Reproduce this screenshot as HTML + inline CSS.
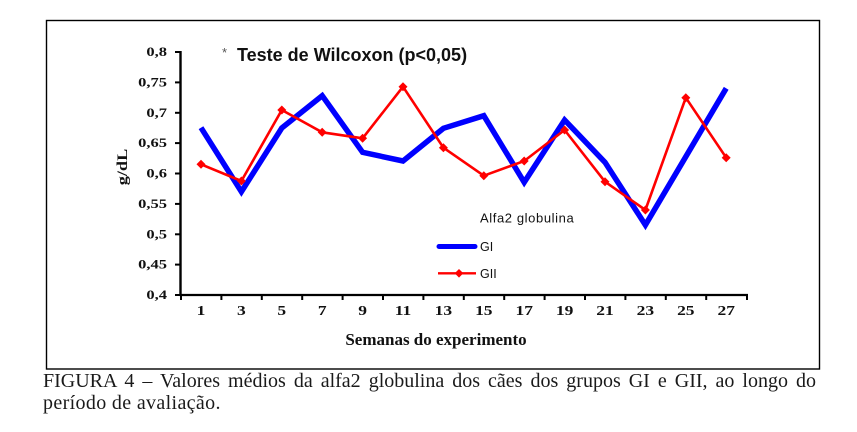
<!DOCTYPE html>
<html><head><meta charset="utf-8"><style>
html,body{margin:0;padding:0;background:#fff;}
body{width:857px;height:432px;overflow:hidden;position:relative;}
svg{position:absolute;left:0;top:0;}
.cap{position:absolute;left:43px;width:773px;font-family:"Liberation Serif",serif;font-size:20px;color:#1a1a1a;white-space:nowrap;line-height:22px;}
</style></head><body>
<svg width="857" height="432" viewBox="0 0 857 432" xmlns="http://www.w3.org/2000/svg">
<rect x="46.5" y="20.5" width="773" height="348.5" fill="none" stroke="#000" stroke-width="1.4"/>
<!-- axes -->
<line x1="180.5" y1="51" x2="180.5" y2="296" stroke="#000" stroke-width="2.4"/>
<line x1="179.5" y1="295" x2="748" y2="295" stroke="#000" stroke-width="2.2"/>
<g stroke="#000" stroke-width="2">
<line x1="175" y1="52" x2="181" y2="52"/>
<line x1="175" y1="82.4" x2="181" y2="82.4"/>
<line x1="175" y1="112.8" x2="181" y2="112.8"/>
<line x1="175" y1="143.1" x2="181" y2="143.1"/>
<line x1="175" y1="173.5" x2="181" y2="173.5"/>
<line x1="175" y1="203.9" x2="181" y2="203.9"/>
<line x1="175" y1="234.3" x2="181" y2="234.3"/>
<line x1="175" y1="264.6" x2="181" y2="264.6"/>
<line x1="175" y1="295" x2="181" y2="295"/>
<line x1="181" y1="295" x2="181" y2="300"/>
<line x1="221.4" y1="295" x2="221.4" y2="300"/>
<line x1="261.8" y1="295" x2="261.8" y2="300"/>
<line x1="302.2" y1="295" x2="302.2" y2="300"/>
<line x1="342.6" y1="295" x2="342.6" y2="300"/>
<line x1="383" y1="295" x2="383" y2="300"/>
<line x1="423.4" y1="295" x2="423.4" y2="300"/>
<line x1="463.8" y1="295" x2="463.8" y2="300"/>
<line x1="504.2" y1="295" x2="504.2" y2="300"/>
<line x1="544.6" y1="295" x2="544.6" y2="300"/>
<line x1="585" y1="295" x2="585" y2="300"/>
<line x1="625.4" y1="295" x2="625.4" y2="300"/>
<line x1="665.8" y1="295" x2="665.8" y2="300"/>
<line x1="706.2" y1="295" x2="706.2" y2="300"/>
<line x1="747" y1="295" x2="747" y2="300"/>
</g>
<!-- y labels -->
<g font-family="Liberation Serif, serif" font-weight="bold" font-size="13" fill="#111" text-anchor="end">
<text transform="translate(167,56) scale(1.27,1)">0,8</text>
<text transform="translate(167,86.4) scale(1.27,1)">0,75</text>
<text transform="translate(167,116.8) scale(1.27,1)">0,7</text>
<text transform="translate(167,147.1) scale(1.27,1)">0,65</text>
<text transform="translate(167,177.5) scale(1.27,1)">0,6</text>
<text transform="translate(167,207.9) scale(1.27,1)">0,55</text>
<text transform="translate(167,238.3) scale(1.27,1)">0,5</text>
<text transform="translate(167,268.6) scale(1.27,1)">0,45</text>
<text transform="translate(167,299) scale(1.27,1)">0,4</text>
</g>
<!-- x labels -->
<g font-family="Liberation Serif, serif" font-weight="bold" font-size="14" fill="#111" text-anchor="middle">
<text transform="translate(201,315) scale(1.25,1)">1</text>
<text transform="translate(241.4,315) scale(1.25,1)">3</text>
<text transform="translate(281.8,315) scale(1.25,1)">5</text>
<text transform="translate(322.2,315) scale(1.25,1)">7</text>
<text transform="translate(362.6,315) scale(1.25,1)">9</text>
<text transform="translate(403,315) scale(1.25,1)">11</text>
<text transform="translate(443.4,315) scale(1.25,1)">13</text>
<text transform="translate(483.8,315) scale(1.25,1)">15</text>
<text transform="translate(524.2,315) scale(1.25,1)">17</text>
<text transform="translate(564.6,315) scale(1.25,1)">19</text>
<text transform="translate(605,315) scale(1.25,1)">21</text>
<text transform="translate(645.4,315) scale(1.25,1)">23</text>
<text transform="translate(685.8,315) scale(1.25,1)">25</text>
<text transform="translate(726.2,315) scale(1.25,1)">27</text>
</g>
<!-- axis titles -->
<text transform="translate(127,167) rotate(-90) scale(1.22,1)" text-anchor="middle" font-family="Liberation Serif, serif" font-weight="bold" font-size="15" fill="#111">g/dL</text>
<text x="436" y="345" text-anchor="middle" font-family="Liberation Serif, serif" font-weight="bold" font-size="17" fill="#111">Semanas do experimento</text>
<!-- title -->
<text x="222" y="57" font-family="Liberation Sans, sans-serif" font-size="13" fill="#555">*</text>
<text x="237" y="61" font-family="Liberation Sans, sans-serif" font-weight="bold" font-size="18" fill="#111">Teste de Wilcoxon (p&lt;0,05)</text>
<!-- series GI -->
<polyline fill="none" stroke="#0000ff" stroke-width="5.5" stroke-linejoin="miter" stroke-miterlimit="4"
points="201,127.7 241.4,191.7 281.8,128 322.2,95.7 362.6,152.3 403,161 443.4,128.3 483.8,115.7 524.2,182.3 564.6,120 605,162.3 645.4,225 685.8,156.7 726.2,88.3"/>
<!-- series GII -->
<polyline fill="none" stroke="#ff0000" stroke-width="2.6" stroke-linejoin="round"
points="201,164.3 241.4,181 281.8,110 322.2,132.3 362.6,138.3 403,86.7 443.4,147.7 483.8,175.7 524.2,161 564.6,130 605,181.7 645.4,210 685.8,97.7 726.2,157.7"/>
<g fill="#ff0000">
<path d="M201,159.8 L205.5,164.3 L201,168.8 L196.5,164.3Z"/>
<path d="M241.4,176.5 L245.9,181 L241.4,185.5 L236.9,181Z"/>
<path d="M281.8,105.5 L286.3,110 L281.8,114.5 L277.3,110Z"/>
<path d="M322.2,127.8 L326.7,132.3 L322.2,136.8 L317.7,132.3Z"/>
<path d="M362.6,133.8 L367.1,138.3 L362.6,142.8 L358.1,138.3Z"/>
<path d="M403,82.2 L407.5,86.7 L403,91.2 L398.5,86.7Z"/>
<path d="M443.4,143.2 L447.9,147.7 L443.4,152.2 L438.9,147.7Z"/>
<path d="M483.8,171.2 L488.3,175.7 L483.8,180.2 L479.3,175.7Z"/>
<path d="M524.2,156.5 L528.7,161 L524.2,165.5 L519.7,161Z"/>
<path d="M564.6,125.5 L569.1,130 L564.6,134.5 L560.1,130Z"/>
<path d="M605,177.2 L609.5,181.7 L605,186.2 L600.5,181.7Z"/>
<path d="M645.4,205.5 L649.9,210 L645.4,214.5 L640.9,210Z"/>
<path d="M685.8,93.2 L690.3,97.7 L685.8,102.2 L681.3,97.7Z"/>
<path d="M726.2,153.2 L730.7,157.7 L726.2,162.2 L721.7,157.7Z"/>
</g>
<!-- legend -->
<text x="480" y="222.5" font-family="Liberation Sans, sans-serif" font-size="13" letter-spacing="0.6" fill="#111">Alfa2 globulina</text>
<line x1="439" y1="246.5" x2="475" y2="246.5" stroke="#0000ff" stroke-width="5" stroke-linecap="round"/>
<text x="480" y="251" font-family="Liberation Sans, sans-serif" font-size="12.5" fill="#111">GI</text>
<line x1="438" y1="273.3" x2="476" y2="273.3" stroke="#ff0000" stroke-width="2.4"/>
<path d="M459,269 L463.3,273.3 L459,277.6 L454.7,273.3Z" fill="#ff0000"/>
<text x="480" y="278" font-family="Liberation Sans, sans-serif" font-size="12.5" fill="#111">GII</text>
</svg>
<div class="cap" style="top:370px;text-align:justify;text-align-last:justify;">FIGURA 4 – Valores médios da alfa2 globulina dos cães dos grupos GI e GII, ao longo do</div>
<div class="cap" style="top:392px;letter-spacing:0.35px;">período de avaliação.</div>
</body></html>
